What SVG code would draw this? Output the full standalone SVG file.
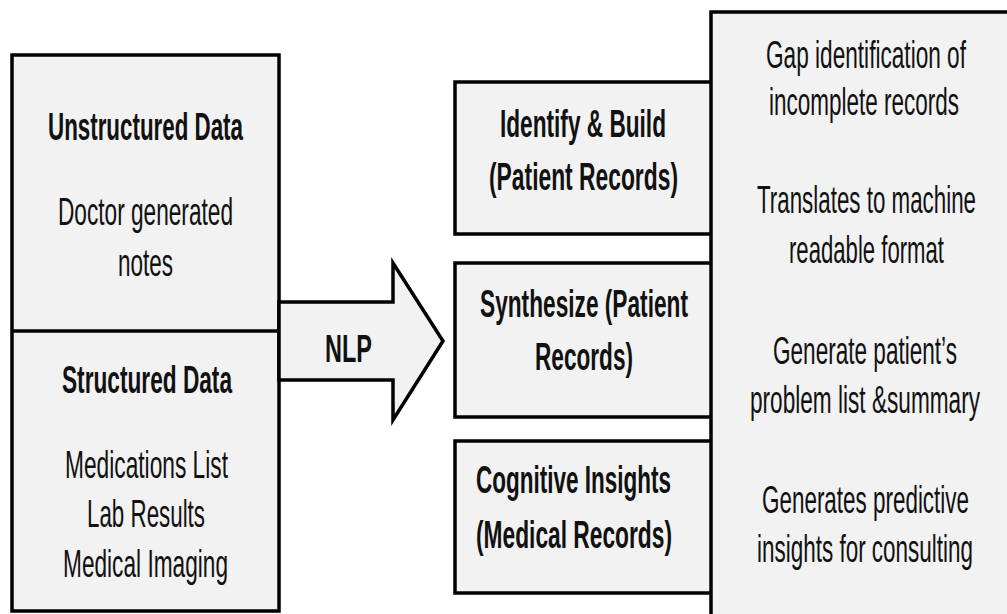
<svg xmlns="http://www.w3.org/2000/svg" width="1007" height="614" viewBox="0 0 1007 614">
  <style>
    .box { fill: #f2f2f2; stroke: #000; stroke-width: 3.5; }
    .fill { fill: #f2f2f2; }
    .line { stroke: #000; stroke-width: 3.5; fill: none; }
    text { font-family: "Liberation Sans", Arial, sans-serif; font-size: 24px; fill: #111; }
    .b { font-weight: bold; }
  </style>
  <rect width="1007" height="614" fill="#fff"/>

  <g id="data-sources">
    <rect class="box" x="12" y="55" width="267" height="556"/>
    <line class="line" x1="12" y1="331" x2="279" y2="331"/>
    <text class="b" transform="translate(48,140) scale(1,1.583)" textLength="195" lengthAdjust="spacingAndGlyphs">Unstructured Data</text>
    <text transform="translate(58,225) scale(1,1.583)" textLength="175" lengthAdjust="spacingAndGlyphs">Doctor generated</text>
    <text transform="translate(118,276) scale(1,1.583)" textLength="55" lengthAdjust="spacingAndGlyphs">notes</text>
    <text class="b" transform="translate(62,393) scale(1,1.583)" textLength="170" lengthAdjust="spacingAndGlyphs">Structured Data</text>
    <text transform="translate(65,478) scale(1,1.583)" textLength="163" lengthAdjust="spacingAndGlyphs">Medications List</text>
    <text transform="translate(87,527) scale(1,1.583)" textLength="118" lengthAdjust="spacingAndGlyphs">Lab Results</text>
    <text transform="translate(63,577) scale(1,1.583)" textLength="165" lengthAdjust="spacingAndGlyphs">Medical Imaging</text>
  </g>

  <g id="connectors">
    <polygon class="box" points="279,302 393,302 393,263 443,341 393,420 393,380 279,380"/>
    <text class="b" transform="translate(325,362) scale(1,1.583)" textLength="47" lengthAdjust="spacingAndGlyphs">NLP</text>
  </g>

  <g id="identify-build">
    <rect class="box" x="455" y="82" width="280" height="152"/>
    <text class="b" transform="translate(500,137) scale(1,1.583)" textLength="166" lengthAdjust="spacingAndGlyphs">Identify &amp; Build</text>
    <text class="b" transform="translate(489,190) scale(1,1.583)" textLength="189" lengthAdjust="spacingAndGlyphs">(Patient Records)</text>
  </g>

  <g id="synthesize">
    <rect class="box" x="455" y="263" width="280" height="154"/>
    <text class="b" transform="translate(480,317) scale(1,1.583)" textLength="208" lengthAdjust="spacingAndGlyphs">Synthesize (Patient</text>
    <text class="b" transform="translate(535,370) scale(1,1.583)" textLength="98" lengthAdjust="spacingAndGlyphs">Records)</text>
  </g>

  <g id="cognitive-insights">
    <rect class="box" x="455" y="441" width="280" height="152"/>
    <text class="b" transform="translate(476,493) scale(1,1.583)" textLength="195" lengthAdjust="spacingAndGlyphs">Cognitive Insights</text>
    <text class="b" transform="translate(476,548) scale(1,1.583)" textLength="196" lengthAdjust="spacingAndGlyphs">(Medical Records)</text>
  </g>

  <g id="outcomes">
    <rect class="fill" x="711" y="12" width="296" height="602"/>
    <path class="line" d="M711,614 V12 H1007"/>
    <text transform="translate(766,68) scale(1,1.583)" textLength="200" lengthAdjust="spacingAndGlyphs">Gap identification of</text>
    <text transform="translate(769,115) scale(1,1.583)" textLength="190" lengthAdjust="spacingAndGlyphs">incomplete records</text>
    <text transform="translate(757,213) scale(1,1.583)" textLength="219" lengthAdjust="spacingAndGlyphs">Translates to machine</text>
    <text transform="translate(789,263) scale(1,1.583)" textLength="155" lengthAdjust="spacingAndGlyphs">readable format</text>
    <text transform="translate(773,364) scale(1,1.583)" textLength="184" lengthAdjust="spacingAndGlyphs">Generate patient’s</text>
    <text transform="translate(750,413) scale(1,1.583)" textLength="230" lengthAdjust="spacingAndGlyphs">problem list &amp;summary</text>
    <text transform="translate(762,513) scale(1,1.583)" textLength="207" lengthAdjust="spacingAndGlyphs">Generates predictive</text>
    <text transform="translate(757,562) scale(1,1.583)" textLength="216" lengthAdjust="spacingAndGlyphs">insights for consulting</text>
  </g>
</svg>
